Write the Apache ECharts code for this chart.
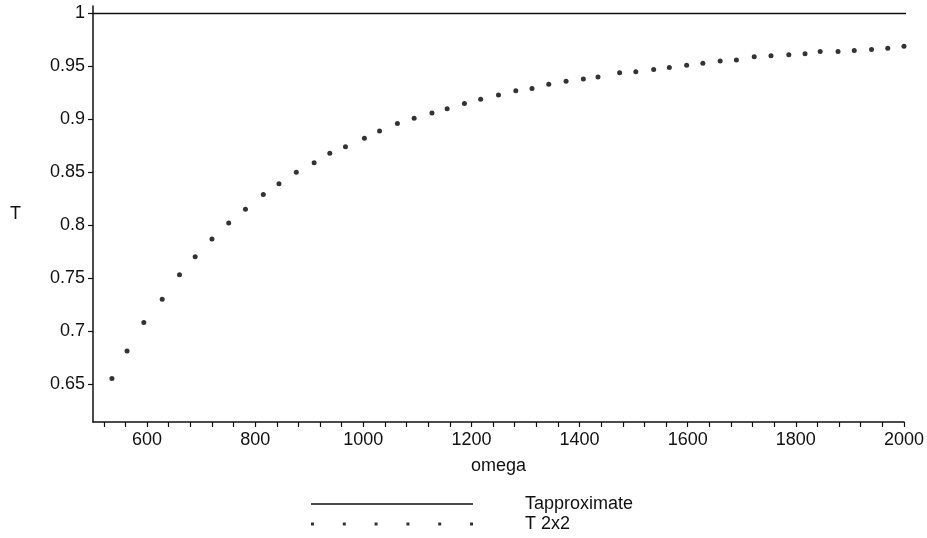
<!DOCTYPE html>
<html>
<head>
<meta charset="utf-8">
<script src="https://cdn.jsdelivr.net/npm/echarts@6/dist/echarts.min.js"></script>
<style>
  html, body { margin: 0; padding: 0; background: #fff; }
  #chart { width: 927px; height: 538px; }
</style>
</head>
<body>
<div id="chart"></div>
<script>
// omega values of the T 2x2 points
const omega2x2 = [
  535, 563, 594, 628, 660, 689, 720, 751, 782, 815, 844, 876,
  909, 938, 967, 1002, 1030, 1063, 1094, 1127, 1155, 1187, 1217, 1250,
  1282, 1312, 1343, 1375, 1407, 1434, 1474, 1504, 1537, 1566, 1598, 1628,
  1660, 1690, 1723, 1754, 1787, 1817, 1845, 1878, 1908, 1940, 1970, 2000,
];
const t2x2 = [
  0.655, 0.681, 0.708, 0.730, 0.753, 0.770, 0.787, 0.802, 0.815, 0.829, 0.839, 0.850,
  0.859, 0.868, 0.874, 0.882, 0.889, 0.896, 0.901, 0.906, 0.910, 0.915, 0.919, 0.923,
  0.927, 0.929, 0.933, 0.936, 0.938, 0.940, 0.944, 0.945, 0.947, 0.949, 0.951, 0.953,
  0.955, 0.956, 0.959, 0.960, 0.961, 0.962, 0.964, 0.964, 0.965, 0.966, 0.967, 0.969,
];
// Tapproximate: flat line at 1 (runs a touch past the axis end in the original)
const omegaApprox = [500, 2010];
const tApprox = [1, 1];

const xTickLabels = [600, 800, 1000, 1200, 1400, 1600, 1800, 2000];
const xTicks = [
  520, 560, 600, 640, 680, 720, 760, 800, 840, 880, 920, 960, 1000, 1040, 1080,
  1120, 1160, 1200, 1240, 1280, 1320, 1360, 1400, 1440, 1480, 1520, 1560, 1600,
  1640, 1680, 1720, 1760, 1800, 1840, 1880, 1920, 1960, 2000,
];
const yTickLabels = [0.65, 0.7, 0.75, 0.8, 0.85, 0.9, 0.95, 1];

const font = 'Liberation Sans, Arial, sans-serif';
const ink = '#111';

const chart = echarts.init(document.getElementById('chart'), null, { renderer: 'canvas' });

const dotsIcon = 'path://M0,0h3v3h-3z M31.8,0h3v3h-3z M63.6,0h3v3h-3z M95.4,0h3v3h-3z M127.2,0h3v3h-3z M159,0h3v3h-3z';
const lineIcon = 'path://M0,0H162V1.5H0Z';

chart.setOption({
  animation: false,
  backgroundColor: '#fff',
  textStyle: { fontFamily: font },
  grid: { left: 93, right: 22, top: 6, bottom: 116 },
  legend: {
    orient: 'vertical',
    left: 306,
    top: 490,
    itemWidth: 162,
    itemHeight: 4,
    itemGap: 2,
    textStyle: { color: ink, fontSize: 18, lineHeight: 18, fontFamily: font, padding: [0, 0, 0, 47] },
    data: [
      { name: 'Tapproximate', icon: lineIcon },
      { name: 'T 2x2', icon: dotsIcon },
    ],
  },
  xAxis: {
    type: 'value',
    min: 500,
    max: 2000,
    name: 'omega',
    nameLocation: 'middle',
    nameGap: 35,
    nameTextStyle: { color: ink, fontSize: 18, fontFamily: font },
    axisLine: { show: true, lineStyle: { color: ink, width: 1.5 } },
    axisTick: { show: true, length: 5, customValues: xTicks, lineStyle: { color: ink, width: 1.2 } },
    axisLabel: {
      color: ink, fontSize: 18, margin: 9, customValues: xTickLabels, fontFamily: font,
      formatter: (v) => String(v),
    },
    splitLine: { show: false },
  },
  yAxis: {
    type: 'value',
    min: 0.614,
    max: 1.007,
    name: 'T',
    nameLocation: 'middle',
    nameRotate: 0,
    nameGap: 72,
    nameTextStyle: { color: ink, fontSize: 18, fontFamily: font },
    axisLine: { show: true, lineStyle: { color: ink, width: 1.5 } },
    axisTick: { show: true, length: 5, customValues: yTickLabels, lineStyle: { color: ink, width: 1.2 } },
    axisLabel: {
      color: ink, fontSize: 18, margin: 8, customValues: yTickLabels, fontFamily: font,
      formatter: (v) => String(v),
    },
    splitLine: { show: false },
  },
  series: [
    {
      name: 'Tapproximate',
      type: 'line',
      clip: false,
      data: omegaApprox.map((x, i) => [x, tApprox[i]]),
      showSymbol: false,
      itemStyle: { color: ink },
      lineStyle: { color: ink, width: 1.5 },
    },
    {
      name: 'T 2x2',
      type: 'scatter',
      data: omega2x2.map((x, i) => [x, t2x2[i]]),
      symbol: 'circle',
      symbolSize: 5,
      itemStyle: { color: '#000' },
    },
  ],
});
</script>
</body>
</html>
